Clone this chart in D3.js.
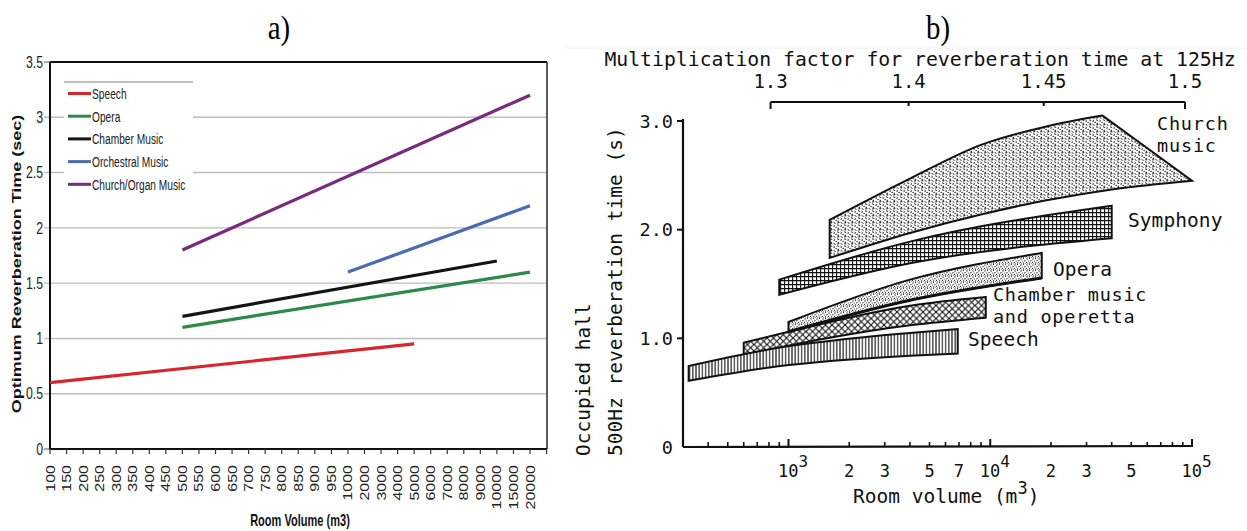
<!DOCTYPE html>
<html><head><meta charset="utf-8">
<script src="https://cdn.jsdelivr.net/npm/d3@7"></script>
<style>
body{margin:0;background:#fff;}
svg{display:block;}
</style></head><body>
<svg id="chart" width="1247" height="531"></svg>
<script>
// ================= Panel a data =================
const volumeCategories = ["100","150","200","250","300","350","400","450","500","550","600","650","700","750","800","850","900","950","1000","2000","3000","4000","5000","6000","7000","8000","9000","10000","15000","20000"];
const seriesNames = ["Speech","Opera","Chamber Music","Orchestral Music","Church/Organ Music"];
const seriesStartCategory = ["100","500","500","1000","500"];
const seriesEndCategory = ["5000","20000","10000","20000","20000"];
const seriesStartValue = [0.6,1.1,1.2,1.6,1.8];
const seriesEndValue = [0.95,1.6,1.7,2.2,3.2];
const yTicksA = [0,0.5,1,1.5,2,2.5,3,3.5];
const yTickLabelsA = ["0","0.5","1","1.5","2","2.5","3","3.5"];
const seriesColors = ["#d8262c","#2b8a45","#141414","#4a6cb4","#7a2a7e"];

// ================= Panel b data =================
const bandNames = ["Church music","Symphony","Opera","Chamber music and operetta","Speech"];
const churchUpper = [[1600,2.09],[4000,2.47],[9000,2.78],[19000,2.95],[36000,3.05]];
const churchLower = [[1600,1.74],[4000,1.97],[9000,2.14],[19000,2.27],[40000,2.37],[100000,2.45]];
const symphonyUpper = [[900,1.54],[4000,1.89],[40000,2.22]];
const symphonyLower = [[900,1.40],[4000,1.69],[40000,1.92]];
const operaUpper = [[1000,1.15],[4000,1.54],[18000,1.785]];
const operaLower = [[1000,1.06],[4000,1.35],[18000,1.555]];
const chamberUpper = [[600,0.96],[1000,1.06],[4000,1.30],[9500,1.38]];
const chamberLower = [[600,0.85],[4000,1.12],[9500,1.19]];
const speechUpper = [[320,0.745],[870,0.91],[4000,1.05],[6900,1.085]];
const speechLower = [[320,0.61],[870,0.74],[4000,0.84],[6900,0.86]];
const xMinorTicksB = [400,500,600,700,800,900,2000,3000,4000,5000,6000,7000,8000,9000,20000,30000,40000,50000,60000,70000,80000,90000];
const xMajorTicksB = [1000,10000,100000];
const xLabelVolumesB = [1000,2000,3000,5000,7000,10000,20000,30000,50000,100000];
const xLabelTextB = ["10","2","3","5","7","10","2","3","5","10"];
const xLabelSupB = ["3","","","","","4","","","","5"];
const yTicksB = [0,1,2,3];
const yTickLabelsB = ["0","1.0","2.0","3.0"];
const factorTicks = [1.3,1.4,1.45,1.5];
const factorTickLabels = ["1.3","1.4","1.45","1.5"];
const factorVolumes = [815,3940,18400,92300];

// ================= drawing =================
const svg = d3.select("#chart");
const sans = "'Liberation Sans', Arial, sans-serif";
const mono = "'DejaVu Sans Mono', 'Liberation Mono', monospace";
const serif = "'Liberation Serif', 'Times New Roman', serif";

// ---------- Panel a ----------
const xA = d3.scalePoint().domain(volumeCategories).range([50,530]);
const yA = d3.scaleLinear().domain([0,3.5]).range([449,62]);
const aLeft = 50, aRight = 547, aTop = 62, aBottom = 449;
const gA = svg.append("g");

gA.append("text").attr("x",279).attr("y",39).attr("text-anchor","middle")
  .attr("font-family",serif).attr("font-size",34).attr("transform","translate(279,0) scale(0.85,1) translate(-279,0)")
  .text("a)");

gA.selectAll("line.grid").data(yTicksA.slice(1,-1)).join("line")
  .attr("x1",aLeft-6).attr("x2",aRight).attr("y1",d=>yA(d)).attr("y2",d=>yA(d))
  .attr("stroke","#bdbdbd").attr("stroke-width",1.4);
gA.selectAll("line.stub").data([0,3.5]).join("line")
  .attr("x1",aLeft-6).attr("x2",aLeft).attr("y1",d=>yA(d)).attr("y2",d=>yA(d))
  .attr("stroke","#888").attr("stroke-width",1.4);

gA.append("line").attr("x1",aLeft).attr("x2",aRight).attr("y1",aTop).attr("y2",aTop).attr("stroke","#111").attr("stroke-width",2);
gA.append("line").attr("x1",aRight).attr("x2",aRight).attr("y1",aTop).attr("y2",aBottom).attr("stroke","#333").attr("stroke-width",1.6);
gA.append("line").attr("x1",aLeft).attr("x2",aLeft).attr("y1",aTop).attr("y2",aBottom).attr("stroke","#111").attr("stroke-width",2);
gA.append("line").attr("x1",aLeft).attr("x2",aRight).attr("y1",aBottom).attr("y2",aBottom).attr("stroke","#111").attr("stroke-width",2);

const step = xA.step();
gA.selectAll("line.xt").data(volumeCategories.map(c=>xA(c)).concat([xA(volumeCategories[volumeCategories.length-1])+step])).join("line")
  .attr("x1",d=>d).attr("x2",d=>d).attr("y1",aBottom).attr("y2",aBottom+5)
  .attr("stroke","#333").attr("stroke-width",1.2);

gA.selectAll("text.yl").data(yTicksA).join("text")
  .attr("transform",d=>`translate(43,${yA(d)}) scale(0.77,1)`)
  .attr("text-anchor","end").attr("dy","0.36em")
  .attr("font-family",sans).attr("font-size",16).attr("fill","#222")
  .text((d,i)=>yTickLabelsA[i]);

gA.selectAll("text.xl").data(volumeCategories).join("text")
  .attr("transform",d=>`translate(${xA(d)+4.5},465) scale(0.77,1) rotate(-90)`)
  .attr("text-anchor","end")
  .attr("font-family",sans).attr("font-size",16).attr("fill","#222")
  .text(d=>d);

gA.append("text").attr("transform","translate(21,264) scale(0.74,1) rotate(-90)")
  .attr("text-anchor","middle").attr("font-family",sans).attr("font-weight","bold").attr("font-size",18).attr("fill","#111")
  .text("Optimum Reverberation Time (sec)");
gA.append("text").attr("transform","translate(300,526) scale(0.69,1)")
  .attr("text-anchor","middle").attr("font-family",sans).attr("font-weight","bold").attr("font-size",16).attr("fill","#111")
  .text("Room Volume (m3)");

seriesNames.forEach((name,i)=>{
  gA.append("line")
    .attr("x1",xA(seriesStartCategory[i])).attr("y1",yA(seriesStartValue[i]))
    .attr("x2",xA(seriesEndCategory[i])).attr("y2",yA(seriesEndValue[i]))
    .attr("stroke",seriesColors[i]).attr("stroke-width",3.2);
});

const lg = gA.append("g");
lg.append("rect").attr("x",64).attr("y",82).attr("width",129).attr("height",113).attr("fill","#fff");
lg.append("line").attr("x1",64).attr("x2",193).attr("y1",82).attr("y2",82).attr("stroke","#aaa").attr("stroke-width",1.3);
seriesNames.forEach((name,i)=>{
  const y = 93.5 + i*22.7;
  lg.append("line").attr("x1",68).attr("x2",91).attr("y1",y).attr("y2",y).attr("stroke",seriesColors[i]).attr("stroke-width",3);
  lg.append("text").attr("transform",`translate(92,${y}) scale(0.68,1)`).attr("dy","0.36em")
    .attr("font-family",sans).attr("font-size",15).attr("fill","#222").text(name);
});

// ---------- Panel b ----------
const xB = d3.scaleLog().domain([300,1e5]).range([683,1192]);
const yB = d3.scaleLinear().domain([0,3]).range([447,121]);
const gB = svg.append("g");

gB.append("line").attr("x1",565).attr("x2",1247).attr("y1",48).attr("y2",48).attr("stroke","#f0f0f0").attr("stroke-width",1);

gB.append("text").attr("x",938).attr("y",39).attr("text-anchor","middle")
  .attr("font-family",serif).attr("font-size",34).attr("transform","translate(938,0) scale(0.85,1) translate(-938,0)")
  .text("b)");

const defs = svg.append("defs");
const pChurch = defs.append("pattern").attr("id","pChurch").attr("patternUnits","userSpaceOnUse").attr("width",7).attr("height",7);
pChurch.append("rect").attr("width",7).attr("height",7).attr("fill","#fff");
pChurch.append("path").attr("d","M0.8,0.8 q1.3,0.9 0,2.2 M4,0.5 q0.9,1.2 2.2,0.9 M2.4,3.6 q1.3,-1 1.9,0.8 M5.7,3.7 q-0.9,1.3 0.5,2.2 M0.6,5.3 q1.3,0.3 1.7,1.5 M3.9,6.2 q0.9,-0.9 2.1,-0.2")
  .attr("stroke","#111").attr("stroke-width",0.9).attr("fill","none");
const pSym = defs.append("pattern").attr("id","pSym").attr("patternUnits","userSpaceOnUse").attr("width",4).attr("height",4);
pSym.append("rect").attr("width",4).attr("height",4).attr("fill","#fff");
pSym.append("path").attr("d","M0,0.6 H4 M0.6,0 V4").attr("stroke","#111").attr("stroke-width",1.1);
const pOpera = defs.append("pattern").attr("id","pOpera").attr("patternUnits","userSpaceOnUse").attr("width",6).attr("height",6);
pOpera.append("rect").attr("width",6).attr("height",6).attr("fill","#fff");
[[1,1,0.7],[3.6,0.5,0.55],[5,2.6,0.7],[2.3,3,0.6],[0.5,4.4,0.6],[3.5,5,0.7],[5.4,5.4,0.45],[1.7,5.5,0.45],[4.3,3.8,0.4]].forEach(d=>{
  pOpera.append("circle").attr("cx",d[0]).attr("cy",d[1]).attr("r",d[2]).attr("fill","#222");
});
const pCham = defs.append("pattern").attr("id","pCham").attr("patternUnits","userSpaceOnUse").attr("width",6.5).attr("height",6.5);
pCham.append("rect").attr("width",6.5).attr("height",6.5).attr("fill","#fff");
pCham.append("path").attr("d","M0,0 L6.5,6.5 M6.5,0 L0,6.5").attr("stroke","#111").attr("stroke-width",1.1);
const pSpeech = defs.append("pattern").attr("id","pSpeech").attr("patternUnits","userSpaceOnUse").attr("width",3.2).attr("height",10);
pSpeech.append("rect").attr("width",3.2).attr("height",10).attr("fill","#fff");
pSpeech.append("path").attr("d","M1.6,0 V10").attr("stroke","#111").attr("stroke-width",1.1);

const edge = d3.line().x(d=>xB(d[0])).y(d=>yB(d[1])).curve(d3.curveMonotoneX);
function bandPath(upper, lower){
  return edge(upper) + edge(lower.slice().reverse()).replace(/^M/,"L") + "Z";
}
const bands = [
  {upper:churchUpper, lower:churchLower, fill:"url(#pChurch)", w:2},
  {upper:symphonyUpper, lower:symphonyLower, fill:"url(#pSym)", w:2},
  {upper:operaUpper, lower:operaLower, fill:"url(#pOpera)", w:2},
  {upper:chamberUpper, lower:chamberLower, fill:"url(#pCham)", w:2},
  {upper:speechUpper, lower:speechLower, fill:"url(#pSpeech)", w:2}
];
bands.forEach(b=>{
  gB.append("path").attr("d",bandPath(b.upper,b.lower)).attr("fill",b.fill)
    .attr("stroke","#111").attr("stroke-width",b.w).attr("stroke-linejoin","miter");
});
// heavier lower edge of the opera band
gB.append("path").attr("d",edge(operaLower)).attr("fill","none").attr("stroke","#111").attr("stroke-width",3);

const bandLabelLayout = [
  {lines:["Church","music"], x:1157, y:130},
  {lines:["Symphony"], x:1128, y:227},
  {lines:["Opera"], x:1053, y:276},
  {lines:["Chamber music","and operetta"], x:993, y:301},
  {lines:["Speech"], x:968, y:346}
];
bandLabelLayout.forEach(l=>{
  const fs = l.lines.length > 1 ? 18.5 : 19.5;
  l.lines.forEach((t,j)=>{
    gB.append("text").attr("x",l.x).attr("y",l.y + j*21.5)
      .attr("font-family",mono).attr("font-size",fs).attr("fill","#111")
      .attr("textLength", t.length*11.8).attr("lengthAdjust","spacing").text(t);
  });
});

gB.append("line").attr("x1",683).attr("x2",683).attr("y1",yB(0)).attr("y2",yB(3)-2).attr("stroke","#111").attr("stroke-width",2.2);
gB.append("line").attr("x1",683).attr("x2",1192).attr("y1",yB(0)).attr("y2",yB(0)-1).attr("stroke","#111").attr("stroke-width",2.2);
gB.selectAll("line.ytb").data(yTicksB.slice(1)).join("line")
  .attr("x1",677).attr("x2",683).attr("y1",d=>yB(d)).attr("y2",d=>yB(d)).attr("stroke","#111").attr("stroke-width",2);
gB.selectAll("text.ylb").data(yTicksB).join("text")
  .attr("x",673).attr("y",d=>yB(d)).attr("dy","0.36em").attr("text-anchor","end")
  .attr("font-family",mono).attr("font-size",18.5).attr("fill","#111")
  .text((d,i)=>yTickLabelsB[i]);
gB.selectAll("line.xmin").data(xMinorTicksB).join("line")
  .attr("x1",d=>xB(d)).attr("x2",d=>xB(d)).attr("y1",yB(0)).attr("y2",yB(0)-5).attr("stroke","#111").attr("stroke-width",1.6);
gB.selectAll("line.xmaj").data(xMajorTicksB).join("line")
  .attr("x1",d=>xB(d)).attr("x2",d=>xB(d)).attr("y1",yB(0)).attr("y2",yB(0)-8).attr("stroke","#111").attr("stroke-width",2);

xLabelVolumesB.forEach((v,i)=>{
  const hasSup = xLabelSupB[i] !== "";
  const t = gB.append("text").attr("y",477).attr("font-family",mono).attr("font-size",17).attr("fill","#111");
  if(hasSup){
    t.attr("x",xB(v)-10.5).attr("text-anchor","start");
    t.append("tspan").text(xLabelTextB[i]);
    t.append("tspan").attr("dy",-10).attr("font-size",16).text(xLabelSupB[i]);
  } else {
    t.attr("x",xB(v)).attr("text-anchor","middle").text(xLabelTextB[i]);
  }
});

const xt = gB.append("text").attr("x",853).attr("y",503).attr("font-family",mono).attr("font-size",19.5).attr("fill","#111");
xt.append("tspan").text("Room volume (m");
xt.append("tspan").attr("dy",-9).attr("font-size",17).text("3");
xt.append("tspan").attr("dy",9).text(")");

gB.append("text").attr("transform","translate(590,456) rotate(-90)")
  .attr("font-family",mono).attr("font-size",19.5).attr("fill","#111").text("Occupied hall");
gB.append("text").attr("transform","translate(622,456) rotate(-90)")
  .attr("font-family",mono).attr("font-size",19.5).attr("fill","#111").text("500Hz reverberation time (s)");

const fx = factorVolumes.map(v=>xB(v));
gB.append("line").attr("x1",fx[0]).attr("x2",fx[fx.length-1]).attr("y1",102).attr("y2",102).attr("stroke","#111").attr("stroke-width",2);
gB.selectAll("line.ft").data(factorTicks).join("line")
  .attr("x1",(d,i)=>fx[i]).attr("x2",(d,i)=>fx[i]).attr("y1",102)
  .attr("y2",(d,i)=> (i===0||i===factorTicks.length-1) ? 109 : 106)
  .attr("stroke","#111").attr("stroke-width",2);
gB.selectAll("text.fl").data(factorTicks).join("text")
  .attr("x",(d,i)=>fx[i]).attr("y",88).attr("text-anchor","middle")
  .attr("font-family",mono).attr("font-size",19).attr("fill","#111")
  .text((d,i)=>factorTickLabels[i]);
gB.append("text").attr("x",920).attr("y",66).attr("text-anchor","middle")
  .attr("font-family",mono).attr("font-size",19.8).attr("fill","#111")
  .text("Multiplication factor for reverberation time at 125Hz");
</script>
</body></html>
